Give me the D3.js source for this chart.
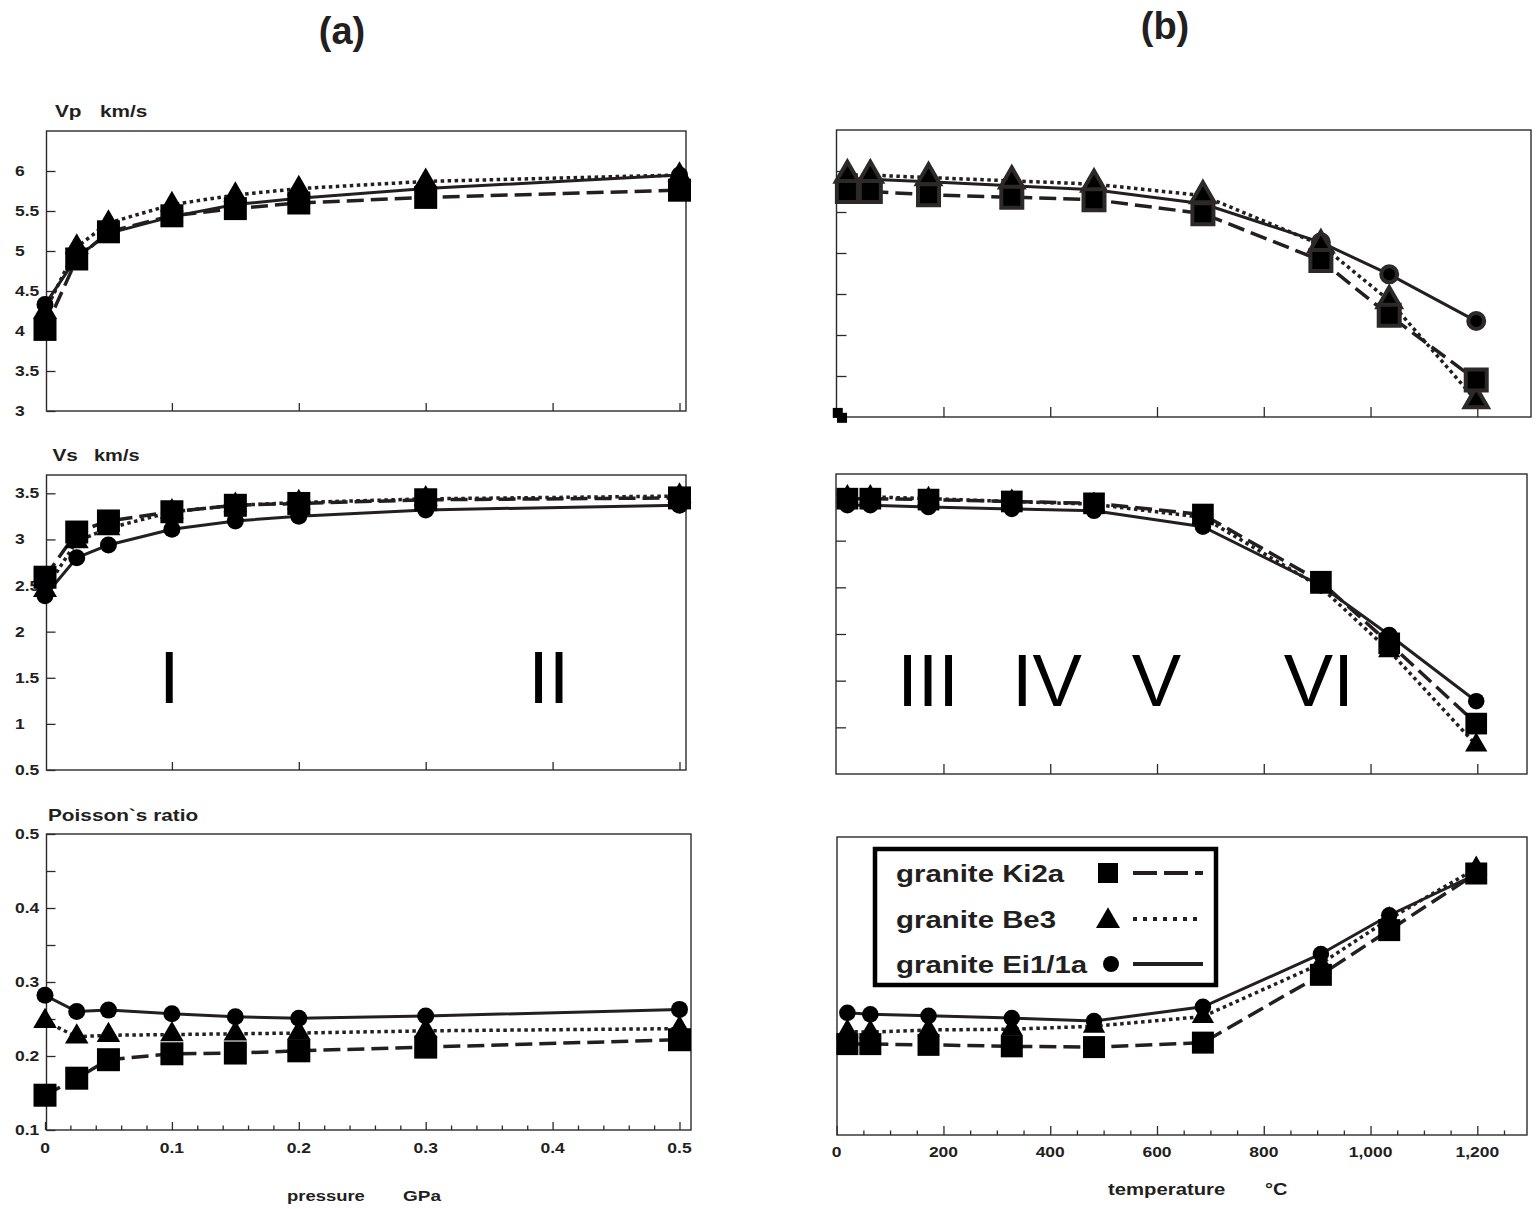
<!DOCTYPE html>
<html>
<head>
<meta charset="utf-8">
<script src="https://cdn.jsdelivr.net/npm/d3@7"></script>
<style>
  body { margin: 0; background: #fff; }
  text { font-family: "Liberation Sans", Arial, Helvetica, sans-serif; fill: #231f20; }
</style>
</head>
<body>
<div class="svg"></div>
<script>
// ---- data ----
var pressure = [0, 0.025, 0.05, 0.1, 0.15, 0.2, 0.3, 0.5];          // GPa
var temperature = [20, 63, 172, 328, 482, 686, 907, 1035, 1198];     // °C

var samples = ["granite Ki2a", "granite Be3", "granite Ei1/1a"];

// Vp, km/s, against pressure
var vpPKi2a = [4.02, 4.90, 5.24, 5.44, 5.53, 5.60, 5.67, 5.76];
var vpPBe3  = [4.24, 5.05, 5.35, 5.58, 5.70, 5.78, 5.87, 5.95];
var vpPEi1  = [4.33, 4.92, 5.22, 5.43, 5.58, 5.66, 5.78, 5.95];
// Vs, km/s, against pressure
var vsPKi2a = [2.59, 3.08, 3.20, 3.30, 3.37, 3.39, 3.43, 3.45];
var vsPBe3  = [2.45, 2.98, 3.12, 3.30, 3.37, 3.40, 3.44, 3.47];
var vsPEi1  = [2.39, 2.80, 2.94, 3.11, 3.20, 3.25, 3.32, 3.37];
// Poisson's ratio against pressure
var prPKi2a = [0.147, 0.170, 0.195, 0.203, 0.204, 0.207, 0.212, 0.222];
var prPBe3  = [0.247, 0.226, 0.228, 0.229, 0.230, 0.231, 0.234, 0.237];
var prPEi1  = [0.282, 0.260, 0.262, 0.257, 0.253, 0.251, 0.254, 0.263];

// Vp against temperature
var vpTKi2a = [5.75, 5.75, 5.71, 5.68, 5.65, 5.48, 4.91, 4.24, 3.45];
var vpTBe3  = [5.95, 5.95, 5.92, 5.88, 5.84, 5.70, 5.10, 4.42, 3.20];
var vpTEi1  = [5.90, 5.90, 5.87, 5.82, 5.77, 5.60, 5.13, 4.74, 4.17];
var vpTStrayT = [2, 10];
var vpTStrayV = [3.05, 2.99];
// Vs against temperature
var vsTKi2a = [3.45, 3.45, 3.44, 3.42, 3.40, 3.28, 2.56, 1.90, 1.04];
var vsTBe3  = [3.47, 3.47, 3.45, 3.42, 3.39, 3.25, 2.50, 1.82, 0.81];
var vsTEi1  = [3.38, 3.38, 3.36, 3.34, 3.32, 3.15, 2.52, 1.99, 1.28];
// Poisson's ratio against temperature
var prTKi2a = [0.222, 0.222, 0.221, 0.219, 0.218, 0.224, 0.315, 0.375, 0.451];
var prTBe3  = [0.239, 0.238, 0.241, 0.242, 0.246, 0.259, 0.330, 0.390, 0.458];
var prTEi1  = [0.264, 0.262, 0.260, 0.257, 0.253, 0.272, 0.343, 0.395, 0.450];

// ticks
var pressureTicks = [0, 0.1, 0.2, 0.3, 0.4, 0.5];
var pressureTickLabels = ["0", "0.1", "0.2", "0.3", "0.4", "0.5"];
var tempTicks = [0, 200, 400, 600, 800, 1000, 1200];
var tempTickLabels = ["0", "200", "400", "600", "800", "1,000", "1,200"];
var vpTicks = [3, 3.5, 4, 4.5, 5, 5.5, 6];
var vpTickLabels = ["3", "3.5", "4", "4.5", "5", "5.5", "6"];
var vsTicks = [0.5, 1, 1.5, 2, 2.5, 3, 3.5];
var vsTickLabels = ["0.5", "1", "1.5", "2", "2.5", "3", "3.5"];
var prTicks = [0.1, 0.2, 0.3, 0.4, 0.5];
var prTickLabels = ["0.1", "0.2", "0.3", "0.4", "0.5"];
var prMinorTicks = [0.15, 0.25, 0.35, 0.45];

// region labels
var regionsP = ["I", "II"];
var regionsPAt = [0.098, 0.397];
var regionsT = ["III", "IV", "V", "VI"];
var regionsTAt = [171, 394, 599, 903];

// ---- drawing ----
var INK = '#231f20';
var lineStyles = [
  {dash: '17,7', width: 3.5},
  {dash: '3.5,3.5', width: 3.5},
  {dash: null, width: 3}
];
var symbolTypes = [d3.symbolSquare, d3.symbolTriangle, d3.symbolCircle];

var svg = d3.select('div.svg').append('svg')
  .attr('width', 1537)
  .attr('height', 1209);

function stretchText(sel, x, y, str, size, sx, anchor, weight) {
  return sel.append('text')
    .attr('transform', 'translate(' + x + ',' + y + ') scale(' + sx + ',1)')
    .attr('text-anchor', anchor || 'start')
    .style('font-size', size + 'px')
    .style('font-weight', weight || 'bold')
    .text(str);
}

function Panel(settings) {
  Object.assign(this, Panel.defaults, settings);
  this.g = svg.append('g');
  this.x = d3.scaleLinear().domain(this.xDomain).range(this.xRange);
  this.y = d3.scaleLinear().domain(this.yDomain).range(this.yRange);
  this.drawFrame();
  this.drawTicks();
  this.drawSeries();
}

Panel.defaults = {
  xTicks: [], xMinor: [], xLabels: null,
  yTicks: [], yMinor: [], yLabels: null,
  xTickLen: 8, yTickLen: 9,
  sizes: [529, 249, 227],
  outline: 0,
  labelY: 0
};

Panel.prototype.drawFrame = function () {
  var f = this.frame;
  this.g.append('rect')
    .attr('x', f[0]).attr('y', f[1])
    .attr('width', f[2] - f[0]).attr('height', f[3] - f[1])
    .attr('fill', 'none')
    .attr('stroke', '#2b2b2b')
    .attr('stroke-width', 1.4);
};

Panel.prototype.drawTicks = function () {
  var f = this.frame, x = this.x, y = this.y, g = this.g, _self = this;
  function axis(a, pos, vals, len) {
    var ax = g.append('g').attr('transform', pos)
      .call(a.tickValues(vals).tickSize(-len).tickFormat(''));
    ax.select('.domain').remove();
    ax.selectAll('line').attr('stroke', '#2b2b2b').attr('stroke-width', 1.3);
  }
  var bottom = 'translate(0,' + f[3] + ')';
  var left = 'translate(' + f[0] + ',0)';
  axis(d3.axisBottom(x), bottom, this.xTicks, this.xTickLen);
  axis(d3.axisBottom(x), bottom, this.xMinor, 4.5);
  axis(d3.axisLeft(y), left, this.yTicks, this.yTickLen);
  axis(d3.axisLeft(y), left, this.yMinor, this.yTickLen);

  if (this.yLabels) {
    this.yLabels.forEach(function (t, i) {
      stretchText(g, 15, y(_self.yTicks[i]), t, 14, 1.25).attr('dy', '0.36em');
    });
  }
  if (this.xLabels) {
    this.xLabels.forEach(function (t, i) {
      stretchText(g, x(_self.xTicks[i]), _self.labelY, t, 14, 1.25, 'middle').attr('dy', '0.36em');
    });
  }
};

Panel.prototype.drawSeries = function () {
  var x = this.x, y = this.y, xs = this.xs, g = this.g, _self = this;
  var line = d3.line()
    .x(function (d) { return x(d[0]); })
    .y(function (d) { return y(d[1]); });

  this.series.forEach(function (vals, i) {
    g.append('path')
      .datum(d3.zip(xs, vals))
      .attr('d', line)
      .attr('fill', 'none')
      .attr('stroke', INK)
      .attr('stroke-width', lineStyles[i].width)
      .attr('stroke-dasharray', lineStyles[i].dash);
  });

  // circles under triangles under squares
  [2, 1, 0].forEach(function (i) {
    var sym = d3.symbol().type(symbolTypes[i]).size(_self.sizes[i]);
    g.selectAll('path.m' + i)
      .data(d3.zip(xs, _self.series[i]))
      .enter()
      .append('path')
      .attr('class', 'm' + i)
      .attr('d', sym)
      .attr('transform', function (d) { return 'translate(' + x(d[0]) + ',' + y(d[1]) + ')'; })
      .attr('fill', '#000')
      .attr('stroke', _self.outline ? '#2e2929' : 'none')
      .attr('stroke-width', _self.outline);
  });
};

var pxRange = [45, 679.5];
var tRange = [836.7, 1477.3];

var tl = new Panel({
  frame: [46.5, 131, 686, 411],
  xDomain: [0, 0.5], xRange: pxRange,
  yDomain: [3, 6.5], yRange: [411, 131],
  xTicks: pressureTicks.slice(1), yTicks: vpTicks, yLabels: vpTickLabels,
  xs: pressure, series: [vpPKi2a, vpPBe3, vpPEi1]
});

var ml = new Panel({
  frame: [46.5, 475, 686, 770],
  xDomain: [0, 0.5], xRange: pxRange,
  yDomain: [0.5, 3.5], yRange: [770, 493.3],
  xTicks: pressureTicks.slice(1), yTicks: vsTicks, yLabels: vsTickLabels,
  xs: pressure, series: [vsPKi2a, vsPBe3, vsPEi1]
});

var bl = new Panel({
  frame: [46.5, 834, 691, 1130],
  xDomain: [0, 0.5], xRange: pxRange,
  yDomain: [0.1, 0.5], yRange: [1130, 834],
  xTicks: pressureTicks, xLabels: pressureTickLabels, labelY: 1148,
  xMinor: d3.range(0.02, 0.5, 0.02).filter(function (v) { return Math.abs(v * 10 - Math.round(v * 10)) > 1e-6; }),
  yTicks: prTicks, yMinor: prMinorTicks, yLabels: prTickLabels,
  xs: pressure, series: [prPKi2a, prPBe3, prPEi1], sizes: [529, 240, 227]
});

var tr = new Panel({
  frame: [836.5, 130, 1531, 417],
  xDomain: [0, 1200], xRange: tRange,
  yDomain: [3, 6.5], yRange: [417, 130],
  xTicks: tempTicks.slice(1), xTickLen: 10,
  yTicks: vpTicks.slice(1), yTickLen: 10,
  xs: temperature, series: [vpTKi2a, vpTBe3, vpTEi1],
  sizes: [441, 230, 200], outline: 4
});
tr.g.selectAll('rect.stray')
  .data(d3.zip(vpTStrayT, vpTStrayV))
  .enter()
  .append('rect')
  .attr('class', 'stray')
  .attr('x', function (d) { return tr.x(d[0]) - 5; })
  .attr('y', function (d) { return tr.y(d[1]) - 5; })
  .attr('width', 10).attr('height', 10)
  .attr('fill', '#000');

var mr = new Panel({
  frame: [836, 474, 1527, 774],
  xDomain: [0, 1200], xRange: tRange,
  yDomain: [0.5, 3.5], yRange: [774, 494],
  xTicks: tempTicks.slice(1), xTickLen: 10,
  yTicks: vsTicks.slice(1), yTickLen: 10,
  xs: temperature, series: [vsTKi2a, vsTBe3, vsTEi1],
  sizes: [470, 215, 214]
});

var br = new Panel({
  frame: [837, 837, 1527, 1135],
  xDomain: [0, 1200], xRange: tRange,
  yDomain: [0.1, 0.5], yRange: [1135, 837],
  xTicks: tempTicks, xLabels: tempTickLabels, labelY: 1152, xTickLen: 9,
  xMinor: d3.range(50, 1300, 50).filter(function (v) { return v % 200 !== 0; }),
  xs: temperature, series: [prTKi2a, prTBe3, prTEi1],
  sizes: [484, 215, 214]
});

// region numerals in the Vs panels
regionsP.forEach(function (r, i) {
  ml.g.append('text')
    .attr('x', ml.x(regionsPAt[i])).attr('y', ml.y(1.226))
    .attr('text-anchor', 'middle')
    .style('font-size', '74px').style('fill', '#000')
    .text(r);
});
regionsT.forEach(function (r, i) {
  mr.g.append('text')
    .attr('x', mr.x(regionsTAt[i])).attr('y', mr.y(1.226))
    .attr('text-anchor', 'middle')
    .style('font-size', '74px').style('fill', '#000')
    .text(r);
});

// titles and axis names
stretchText(svg, 342, 44, '(a)', 38, 1.0, 'middle');
stretchText(svg, 1165, 39, '(b)', 38, 1.0, 'middle');
stretchText(svg, 55, 116.5, 'Vp', 16, 1.3);
stretchText(svg, 100, 116.5, 'km/s', 16, 1.3);
stretchText(svg, 52.5, 461, 'Vs', 16, 1.3);
stretchText(svg, 94, 461, 'km/s', 16, 1.25);
stretchText(svg, 48, 821, 'Poisson`s ratio', 16, 1.3);
stretchText(svg, 287, 1200.5, 'pressure', 15, 1.23);
stretchText(svg, 403, 1200.5, 'GPa', 15, 1.27);
stretchText(svg, 1108, 1194.5, 'temperature', 16, 1.27);
stretchText(svg, 1265, 1194.5, '°C', 16, 1.25);

// legend
var leg = br.g.append('g');
leg.append('rect')
  .attr('x', 875).attr('y', 849)
  .attr('width', 341).attr('height', 136)
  .attr('fill', '#fff').attr('stroke', '#000').attr('stroke-width', 4.5);
var legY = [873, 919, 964];
var legDash = ['24,7', '4,6', null];
var legSizes = [400, 250, 200];
samples.forEach(function (s, i) {
  stretchText(leg, 896, legY[i], s, 24.5, 1.2).attr('dy', '0.36em');
  leg.append('path')
    .attr('d', d3.symbol().type(symbolTypes[i]).size(legSizes[i]))
    .attr('transform', 'translate(' + (i === 2 ? 1111 : 1108) + ',' + (legY[i] + (i === 1 ? 2 : 0)) + ')')
    .attr('fill', '#000');
  leg.append('line')
    .attr('x1', 1133).attr('x2', 1203)
    .attr('y1', legY[i]).attr('y2', legY[i])
    .attr('stroke', INK).attr('stroke-width', 4)
    .attr('stroke-dasharray', legDash[i]);
});
</script>
</body>
</html>
